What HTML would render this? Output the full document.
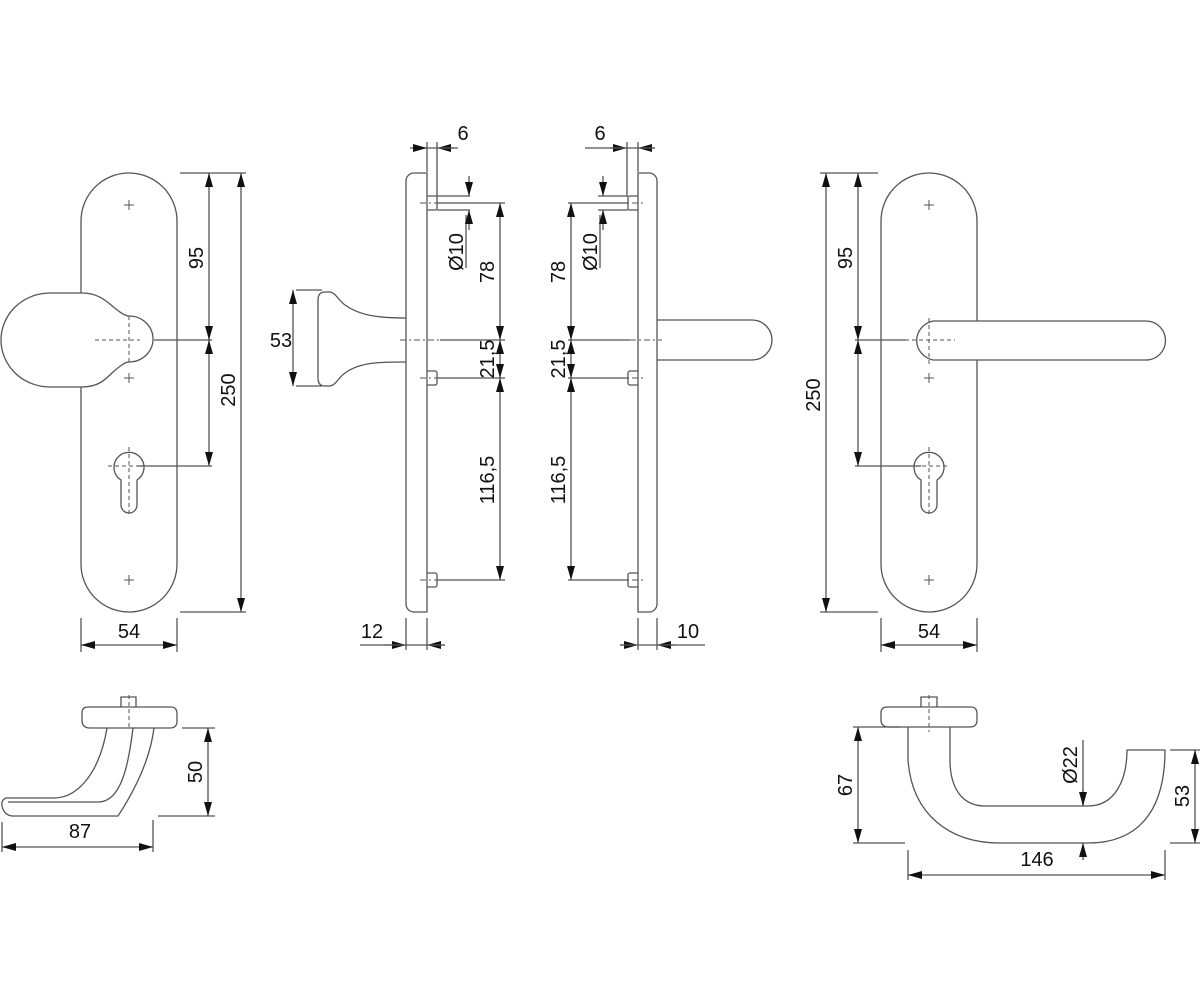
<!DOCTYPE html>
<html><head><meta charset="utf-8"><style>
html,body{margin:0;padding:0;background:#fff;}
svg{display:block;}
text{font-family:"Liberation Sans",Arial,sans-serif;font-size:20px;fill:#111;}
</style></head><body>
<svg width="1200" height="1000" viewBox="0 0 1200 1000" xmlns="http://www.w3.org/2000/svg">
<defs>
<marker id="a" viewBox="0 0 14 8" refX="14" refY="4" markerWidth="14" markerHeight="8" markerUnits="userSpaceOnUse" orient="auto-start-reverse"><path d="M0,0 L14,4 L0,8 Z" fill="#111"/></marker>
</defs>
<g fill="none" stroke="#555" stroke-width="1.3">
<!-- LEFT PLATE -->
<rect x="81" y="173" width="96" height="439" rx="48" fill="#fff"/>
<path d="M82,293 C100,293 108,303 116,309 C122,314 126,316 129,316 A24 23 0 0 1 129,362 C125,362 120,366 113,372 C105,380 98,387 82,387 L50,387 A49 47 0 0 1 50,293 Z" fill="#fff"/>
<g stroke-width="1">
<path d="M124,205h10M129,200v10 M124,378h10M129,373v10 M124,580h10M129,575v10"/>
</g>
<path d="M121,480 A15,15 0 1 1 137,480 L137,505 A8,8 0 0 1 121,505 Z"/>
<path d="M129,447v70 M108,466h42 M95,340h45" stroke-dasharray="4 3" stroke-width="1"/>
<path d="M129,316v46" stroke-dasharray="4 3" stroke-width="1"/>
<!-- left dims -->
<path d="M180,173H246 M154,340H212 M137,466H212 M180,612H246 M81,618V652 M177,618V652"/>
<line x1="209" y1="173" x2="209" y2="340" marker-start="url(#a)" marker-end="url(#a)"/>
<line x1="209" y1="340" x2="209" y2="466" marker-start="url(#a)" marker-end="url(#a)"/>
<line x1="241" y1="173" x2="241" y2="612" marker-start="url(#a)" marker-end="url(#a)"/>
<line x1="81" y1="645" x2="177" y2="645" marker-start="url(#a)" marker-end="url(#a)"/>

<!-- MIDDLE LEFT SIDE -->
<path d="M427,173 H414 A8,8 0 0 0 406,181 V604 A8,8 0 0 0 414,612 H427 Z" fill="#fff"/>
<path d="M427,196h8a2,2 0 0 1 2,2v10a2,2 0 0 1 -2,2h-8 M427,371h8a2,2 0 0 1 2,2v10a2,2 0 0 1 -2,2h-8 M427,573h8a2,2 0 0 1 2,2v10a2,2 0 0 1 -2,2h-8"/>
<path d="M406,318 C380,318 360,316 345,305 C338,300 336,293 330,292 H325 Q318,292 318,300 V378 Q318,386 325,386 H330 C336,385 338,378 345,373 C360,362 380,362 406,362"/>
<path d="M400,340H440 M420,203H445 M420,378H445 M420,580H445" stroke-dasharray="6 3 2 3" stroke-width="1"/>
<path d="M296,290H322 M296,386H322 M437,203H505 M437,378H505 M437,580H505 M437,196H470 M437,210H470 M440,340H505 M427,142V172 M437,142V196 M406,618V650 M427,618V650 M466,215V268"/>
<line x1="293" y1="290" x2="293" y2="386" marker-start="url(#a)" marker-end="url(#a)"/>
<line x1="410" y1="148" x2="427" y2="148" marker-end="url(#a)"/><line x1="454" y1="148" x2="437" y2="148" marker-end="url(#a)"/>
<path d="M427,148H437 M437,148H458"/>
<line x1="469" y1="176" x2="469" y2="196" marker-end="url(#a)"/><line x1="469" y1="230" x2="469" y2="210" marker-end="url(#a)"/>
<line x1="500" y1="203" x2="500" y2="340" marker-start="url(#a)" marker-end="url(#a)"/>
<line x1="500" y1="340" x2="500" y2="378" marker-start="url(#a)" marker-end="url(#a)"/>
<line x1="500" y1="378" x2="500" y2="580" marker-start="url(#a)" marker-end="url(#a)"/>
<line x1="385" y1="645" x2="406" y2="645" marker-end="url(#a)"/><line x1="445" y1="645" x2="427" y2="645" marker-end="url(#a)"/>
<path d="M360,645H445"/>

<!-- MIDDLE RIGHT SIDE -->
<path d="M638,173 H649 A8,8 0 0 1 657,181 V604 A8,8 0 0 1 649,612 H638 Z" fill="#fff"/>
<path d="M638,196h-8a2,2 0 0 0 -2,2v10a2,2 0 0 0 2,2h8 M638,371h-8a2,2 0 0 0 -2,2v10a2,2 0 0 0 2,2h8 M638,573h-8a2,2 0 0 0 -2,2v10a2,2 0 0 0 2,2h8"/>
<path d="M657,320 H752 A20,20 0 0 1 752,360 H657"/>
<path d="M630,340H662 M618,203H645 M618,378H645 M618,580H645" stroke-dasharray="6 3 2 3" stroke-width="1"/>
<path d="M568,203H628 M568,378H628 M568,580H628 M598,196H628 M598,210H628 M568,340H630 M638,142V172 M627,142V196 M638,618V650 M657,618V650 M600,215V268"/>
<line x1="610" y1="148" x2="627" y2="148" marker-end="url(#a)"/><line x1="655" y1="148" x2="638" y2="148" marker-end="url(#a)"/>
<path d="M585,148H655"/>
<line x1="603" y1="176" x2="603" y2="196" marker-end="url(#a)"/><line x1="603" y1="230" x2="603" y2="210" marker-end="url(#a)"/>
<line x1="571" y1="203" x2="571" y2="340" marker-start="url(#a)" marker-end="url(#a)"/>
<line x1="571" y1="340" x2="571" y2="378" marker-start="url(#a)" marker-end="url(#a)"/>
<line x1="571" y1="378" x2="571" y2="580" marker-start="url(#a)" marker-end="url(#a)"/>
<line x1="620" y1="645" x2="638" y2="645" marker-end="url(#a)"/><line x1="676" y1="645" x2="657" y2="645" marker-end="url(#a)"/>
<path d="M620,645H705"/>

<!-- RIGHT PLATE -->
<rect x="881" y="173" width="96" height="439" rx="48" fill="#fff"/>
<path d="M933,321 H1146 A19.5,19.5 0 0 1 1146,360 H933 A21,20 0 0 1 933,321 Z" fill="#fff"/>
<g stroke-width="1">
<path d="M924,205h10M929,200v10 M924,378h10M929,373v10 M924,580h10M929,575v10"/>
</g>
<path d="M921,480 A15,15 0 1 1 937,480 L937,505 A8,8 0 0 1 921,505 Z"/>
<path d="M929,447v70 M908,466h42 M929,318v46 M905,340h50" stroke-dasharray="4 3" stroke-width="1"/>
<path d="M820,173H878 M855,340H906 M855,466H921 M820,612H878 M881,618V652 M977,618V652"/>
<line x1="826" y1="173" x2="826" y2="612" marker-start="url(#a)" marker-end="url(#a)"/>
<line x1="858" y1="173" x2="858" y2="340" marker-start="url(#a)" marker-end="url(#a)"/>
<line x1="858" y1="340" x2="858" y2="466" marker-start="url(#a)" marker-end="url(#a)"/>
<line x1="881" y1="645" x2="977" y2="645" marker-start="url(#a)" marker-end="url(#a)"/>

<!-- BOTTOM LEFT LEVER -->
<path d="M121,707V697H136V707"/>
<path d="M88,707 H171 Q177,707 177,714 V721 Q177,728 170,728 H90 Q82,728 82,720 V713 Q82,707 88,707 Z"/>
<path d="M107,728 C100,770 80,797 55,798 H6 Q1,800 2,806 Q4,815 12,816 H118 C135,790 150,760 154,728"/>
<path d="M133,728 C128,770 120,800 100,802 H8"/>
<path d="M129,695V730" stroke-dasharray="4 3" stroke-width="1"/>
<path d="M182,728H215 M158,816H215 M2,822V852 M153,820V852"/>
<line x1="208" y1="728" x2="208" y2="816" marker-start="url(#a)" marker-end="url(#a)"/>
<line x1="2" y1="847" x2="153" y2="847" marker-start="url(#a)" marker-end="url(#a)"/>

<!-- BOTTOM RIGHT LEVER -->
<path d="M921,707V697H937V707"/>
<path d="M887,707 H971 Q977,707 977,714 V720 Q977,727 970,727 H889 Q881,727 881,720 V713 Q881,707 887,707 Z"/>
<path d="M908,727 V760 C912,815 950,843 1000,843 H1088 C1135,843 1165,815 1165,750 H1127 C1127,780 1115,806 1088,806 H985 C960,806 950,785 950,760 V727"/>
<path d="M929,695V732" stroke-dasharray="4 3" stroke-width="1"/>
<path d="M853,727H900 M853,843H905 M1170,750H1200 M1170,843H1200 M908,850V880 M1165,850V880 M1083,740V806"/>
<line x1="858" y1="727" x2="858" y2="843" marker-start="url(#a)" marker-end="url(#a)"/>
<line x1="1195" y1="750" x2="1195" y2="843" marker-start="url(#a)" marker-end="url(#a)"/>
<line x1="908" y1="875" x2="1165" y2="875" marker-start="url(#a)" marker-end="url(#a)"/>
<line x1="1083" y1="790" x2="1083" y2="806" marker-end="url(#a)"/>
<line x1="1083" y1="860" x2="1083" y2="843" marker-end="url(#a)"/>
</g>

<g>
<text transform="translate(203,258) rotate(-90)" text-anchor="middle">95</text>
<text transform="translate(235,390) rotate(-90)" text-anchor="middle">250</text>
<text x="129" y="638" text-anchor="middle">54</text>
<text x="281" y="347" text-anchor="middle">53</text>
<text x="463" y="140" text-anchor="middle">6</text>
<text transform="translate(463,252) rotate(-90)" text-anchor="middle">Ø10</text>
<text transform="translate(494,272) rotate(-90)" text-anchor="middle">78</text>
<text transform="translate(494,359) rotate(-90)" text-anchor="middle">21,5</text>
<text transform="translate(494,480) rotate(-90)" text-anchor="middle">116,5</text>
<text x="372" y="638" text-anchor="middle">12</text>
<text x="600" y="140" text-anchor="middle">6</text>
<text transform="translate(597,252) rotate(-90)" text-anchor="middle">Ø10</text>
<text transform="translate(565,272) rotate(-90)" text-anchor="middle">78</text>
<text transform="translate(565,359) rotate(-90)" text-anchor="middle">21,5</text>
<text transform="translate(565,480) rotate(-90)" text-anchor="middle">116,5</text>
<text x="688" y="638" text-anchor="middle">10</text>
<text transform="translate(820,395) rotate(-90)" text-anchor="middle">250</text>
<text transform="translate(852,258) rotate(-90)" text-anchor="middle">95</text>
<text x="929" y="638" text-anchor="middle">54</text>
<text transform="translate(202,772) rotate(-90)" text-anchor="middle">50</text>
<text x="80" y="838" text-anchor="middle">87</text>
<text transform="translate(852,785) rotate(-90)" text-anchor="middle">67</text>
<text transform="translate(1077,765) rotate(-90)" text-anchor="middle">Ø22</text>
<text transform="translate(1189,796) rotate(-90)" text-anchor="middle">53</text>
<text x="1037" y="866" text-anchor="middle">146</text>
</g>
</svg>
</body></html>
